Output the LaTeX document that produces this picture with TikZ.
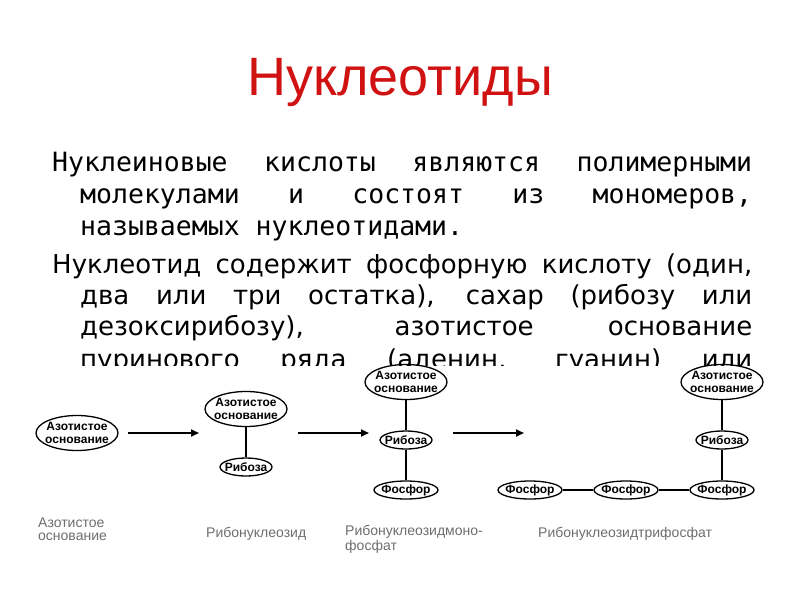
\documentclass[tikz,border=0pt]{standalone}
\usepackage{fontspec}
\setmainfont{DejaVu Sans}
\newfontfamily\titlefont{Liberation Sans}
\newfontfamily\monofont{DejaVu Sans Mono}
\usetikzlibrary{shapes.geometric,arrows.meta,positioning}
\definecolor{titlered}{RGB}{208,18,18}
\definecolor{labelgray}{RGB}{110,110,110}
\tikzset{
  part/.style={ellipse,draw,line width=1.3pt,inner xsep=-3pt,inner ysep=-1pt,align=center,
    font=\titlefont\bfseries\fontsize{12}{12.5}\selectfont},
  base/.style={part,minimum width=82pt,minimum height=35pt},
  sugar/.style={part,minimum width=52pt,minimum height=18pt},
  phos/.style={part,minimum width=64pt,minimum height=18pt},
  link/.style={line width=1.3pt},
  pointer/.style={line width=1.8pt,-{Triangle[length=8pt,width=7pt]}},
  caption/.style={anchor=base west,inner sep=0pt,align=left,text=labelgray,
    font=\titlefont\fontsize{14}{13}\selectfont},
  line/.style={anchor=base west,inner sep=0pt}
}
\begin{document}
\begin{tikzpicture}[x=1pt,y=-1pt]
    \fill[white] (0,0) rectangle (800,600);
    \useasboundingbox (0,0) rectangle (800,600);
    % title
    \node[anchor=base,inner sep=0pt,text=titlered,font=\titlefont\fontsize{54}{54}\selectfont] (title) at (400,95) {Нуклеотиды};
    % text
    \begin{scope}[font=\monofont\fontsize{26.5}{32}\selectfont]
        \node[line] (p1a) at (52,171) {\makebox[700pt][s]{Нуклеиновые кислоты являются полимерными}};
        \node[line] (p1b) at (80,203) {\makebox[672pt][s]{молекулами и состоят из мономеров,}};
        \node[line] (p1c) at (80,235) {называемых нуклеотидами.};
    \end{scope}
    \begin{scope}[font=\fontsize{26}{31}\selectfont]
        \node[line] (p2a) at (52,273) {\makebox[700pt][s]{Нуклеотид содержит фосфорную кислоту (один,}};
        \node[line] (p2b) at (80,304) {\makebox[672pt][s]{два или три остатка), сахар (рибозу или}};
        \node[line] (p2c) at (80,335) {\makebox[672pt][s]{дезоксирибозу), азотистое основание}};
        \begin{scope}
            \clip (0,340) rectangle (800,365);
            \node[line] (p2d) at (80,368) {\makebox[672pt][s]{пуринового ряда (аденин, гуанин) или}};
        \end{scope}
    \end{scope}
    % scheme
    \node[base] (b1) at (77,433) {Азотистое\\основание};
    \node[base] (b2) at (246,409) {Азотистое\\основание};
    \node[sugar] (s2) at (246,467) {Рибоза};
    \node[base] (b3) at (406,382) {Азотистое\\основание};
    \node[sugar] (s3) at (406,440) {Рибоза};
    \node[phos] (p3) at (406,490) {Фосфор};
    \node[base] (b4) at (722,382) {Азотистое\\основание};
    \node[sugar] (s4) at (722,440) {Рибоза};
    \node[phos] (p4c) at (722,490) {Фосфор};
    \node[phos] (p4b) at (626,490) {Фосфор};
    \node[phos] (p4a) at (530,490) {Фосфор};
    \draw[link] (b2) -- (s2);
    \draw[link] (b3) -- (s3) -- (p3);
    \draw[link] (b4) -- (s4) -- (p4c) -- (p4b) -- (p4a);
    \coordinate (a1) at (128,433); \coordinate (e1) at (199,433);
    \coordinate (a2) at (298,433); \coordinate (e2) at (369,433);
    \coordinate (a3) at (453,433); \coordinate (e3) at (524,433);
    \draw[pointer] (a1) -- (e1);
    \draw[pointer] (a2) -- (e2);
    \draw[pointer] (a3) -- (e3);
    % captions
    \node[caption] (c1) at (38,540) {Азотистое\\основание};
    \node[caption] (c2) at (206,537) {Рибонуклеозид};
    \node[caption] (c3) at (345,550) {Рибонуклеозидмоно-\\фосфат};
    \node[caption] (c4) at (538,537) {Рибонуклеозидтрифосфат};
\end{tikzpicture}
\end{document}
